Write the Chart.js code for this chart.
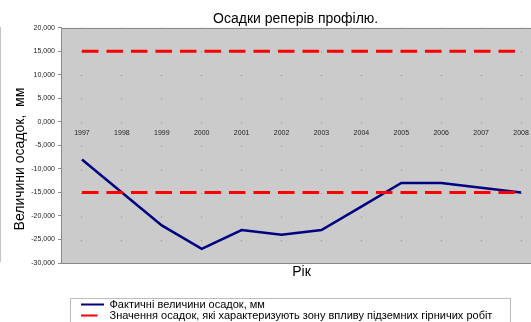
<!DOCTYPE html>
<html>
<head>
<meta charset="utf-8">
<script src="https://cdn.jsdelivr.net/npm/chart.js@4"></script>
<style>
html,body{margin:0;padding:0;background:#fff;overflow:hidden;width:531px;height:322px;}
#wrap{position:absolute;left:0;top:0;width:545px;height:322px;}
</style>
</head>
<body>
<div id="wrap"><canvas id="c" width="545" height="322"></canvas></div>
<script>
const years = ['1997','1998','1999','2000','2001','2002','2003','2004','2005','2006','2007','2008'];
const actualSettlement = [-8, -15, -22, -27, -23, -24, -23, -18, -13, -13, -14, -15];
const upperLimit = [15, 15, 15, 15, 15, 15, 15, 15, 15, 15, 15, 15];
const lowerLimit = [-15, -15, -15, -15, -15, -15, -15, -15, -15, -15, -15, -15];
const yTicks = [20, 15, 10, 5, 0, -5, -10, -15, -20, -25, -30];

const FONT = "'Liberation Sans', Arial, sans-serif";

const framePlugin = {
  id: 'frame',
  beforeDraw(chart) {
    const {ctx, chartArea: a} = chart;
    ctx.save();
    ctx.fillStyle = '#cbcbcb';
    ctx.fillRect(a.left, a.top, a.right - a.left, a.bottom - a.top);
    ctx.strokeStyle = '#8a8a8a';
    ctx.lineWidth = 1;
    ctx.beginPath();
    ctx.moveTo(Math.round(a.right) + 10, Math.round(a.top) + 0.5);
    ctx.lineTo(Math.round(a.left) - 0.5, Math.round(a.top) + 0.5);
    ctx.lineTo(Math.round(a.left) - 0.5, Math.round(a.bottom) + 0.5);
    ctx.lineTo(Math.round(a.right) + 10, Math.round(a.bottom) + 0.5);
    ctx.stroke();
    ctx.strokeStyle = '#c4c4c4';
    ctx.beginPath();
    ctx.moveTo(0.5, 27);
    ctx.lineTo(0.5, 262);
    ctx.stroke();
    ctx.restore();
    const lg = chart.legend;
    if (lg) { lg.left = 81; lg.top = 299; lg.right = 545; lg.bottom = 400; }
  },
  afterDraw(chart) {
    const {ctx} = chart;
    ctx.save();
    ctx.strokeStyle = '#bdbdbd';
    ctx.lineWidth = 1;
    ctx.strokeRect(70.5, 298.5, 440, 40);
    ctx.restore();
  }
};

new Chart(document.getElementById('c'), {
  type: 'line',
  data: {
    labels: years,
    datasets: [
      {
        label: 'Фактичні величини осадок, мм',
        data: actualSettlement,
        borderColor: '#000080',
        backgroundColor: '#000080',
        borderWidth: 2.5,
        pointRadius: 0,
        tension: 0,
        order: 2
      },
      {
        label: 'Значення осадок, які характеризують зону впливу підземних гірничих робіт',
        data: upperLimit,
        borderColor: '#ff0000',
        backgroundColor: '#ff0000',
        borderWidth: 3,
        borderDash: [16.5, 8],
        pointRadius: 0,
        tension: 0,
        order: 1
      },
      {
        label: 'Значення осадок, які характеризують зону впливу підземних гірничих робіт',
        data: lowerLimit,
        borderColor: '#ff0000',
        backgroundColor: '#ff0000',
        borderWidth: 3,
        borderDash: [16.5, 8],
        pointRadius: 0,
        tension: 0,
        order: 1
      }
    ]
  },
  options: {
    responsive: false,
    animation: false,
    devicePixelRatio: 1,
    layout: { padding: { left: 12, right: 4, top: 0, bottom: 0 } },
    plugins: {
      title: {
        display: true,
        text: 'Осадки реперів профілю.   ',
        fullSize: false,
        color: '#000',
        font: { family: FONT, size: 14, weight: 'normal' },
        padding: { top: 11, bottom: 0 }
      },
      legend: {
        display: true,
        position: 'chartArea',
        align: 'start',
        labels: {
          usePointStyle: true,
          pointStyle: 'line',
          pointStyleWidth: 23,
          padding: 0,
          color: '#000',
          textAlign: 'left',
          font: { family: FONT, size: 11 },
          generateLabels(chart) {
            return chart.data.datasets.slice(0, 2).map((ds, i) => ({
              text: ds.label,
              fillStyle: ds.borderColor,
              strokeStyle: ds.borderColor,
              fontColor: '#000',
              lineWidth: 2,
              lineDash: ds.borderDash || [],
              lineDashOffset: 0,
              lineCap: 'butt',
              pointStyle: 'line',
              hidden: false,
              textAlign: 'left',
              datasetIndex: i
            }));
          }
        }
      },
      tooltip: { enabled: false }
    },
    scales: {
      x: {
        type: 'category',
        position: { y: 0 },
        offset: true,
        border: { display: false, dash: [1, 22.6] },
        grid: {
          display: true,
          offset: false,
          color: '#8a8a8a',
          lineWidth: 1,
          drawTicks: true,
          tickLength: 4,
          tickColor: 'rgba(0,0,0,0)'
        },
        ticks: {
          color: '#222',
          font: { family: FONT, size: 7 },
          padding: 3,
          maxRotation: 0,
          autoSkip: false
        }
      },
      x2: {
        type: 'category',
        position: 'bottom',
        labels: years,
        grid: { display: false, drawTicks: false },
        border: { display: false },
        ticks: { display: false },
        title: {
          display: true,
          text: 'Рік',
          color: '#000',
          font: { family: FONT, size: 14 },
          padding: { top: 0, bottom: 41 }
        },
        afterFit(scale) { scale.height = 59; }
      },
      y: {
        type: 'linear',
        position: 'left',
        min: -30,
        max: 20,
        afterBuildTicks(scale) { scale.ticks = yTicks.map(v => ({ value: v })); },
        border: { display: false },
        grid: {
          drawOnChartArea: false,
          drawTicks: true,
          tickLength: 4,
          tickColor: '#8a8a8a'
        },
        ticks: {
          color: '#222',
          font: { family: FONT, size: 7 },
          padding: 3,
          callback: (v) => Number(v).toFixed(3).replace('.', ',')
        },
        title: {
          display: true,
          text: 'Величини осадок,  мм       ',
          color: '#000',
          font: { family: FONT, size: 14 },
          padding: 0
        },
        afterFit(scale) { scale.width = 50; }
      }
    }
  },
  plugins: [framePlugin]
});
</script>
</body>
</html>
